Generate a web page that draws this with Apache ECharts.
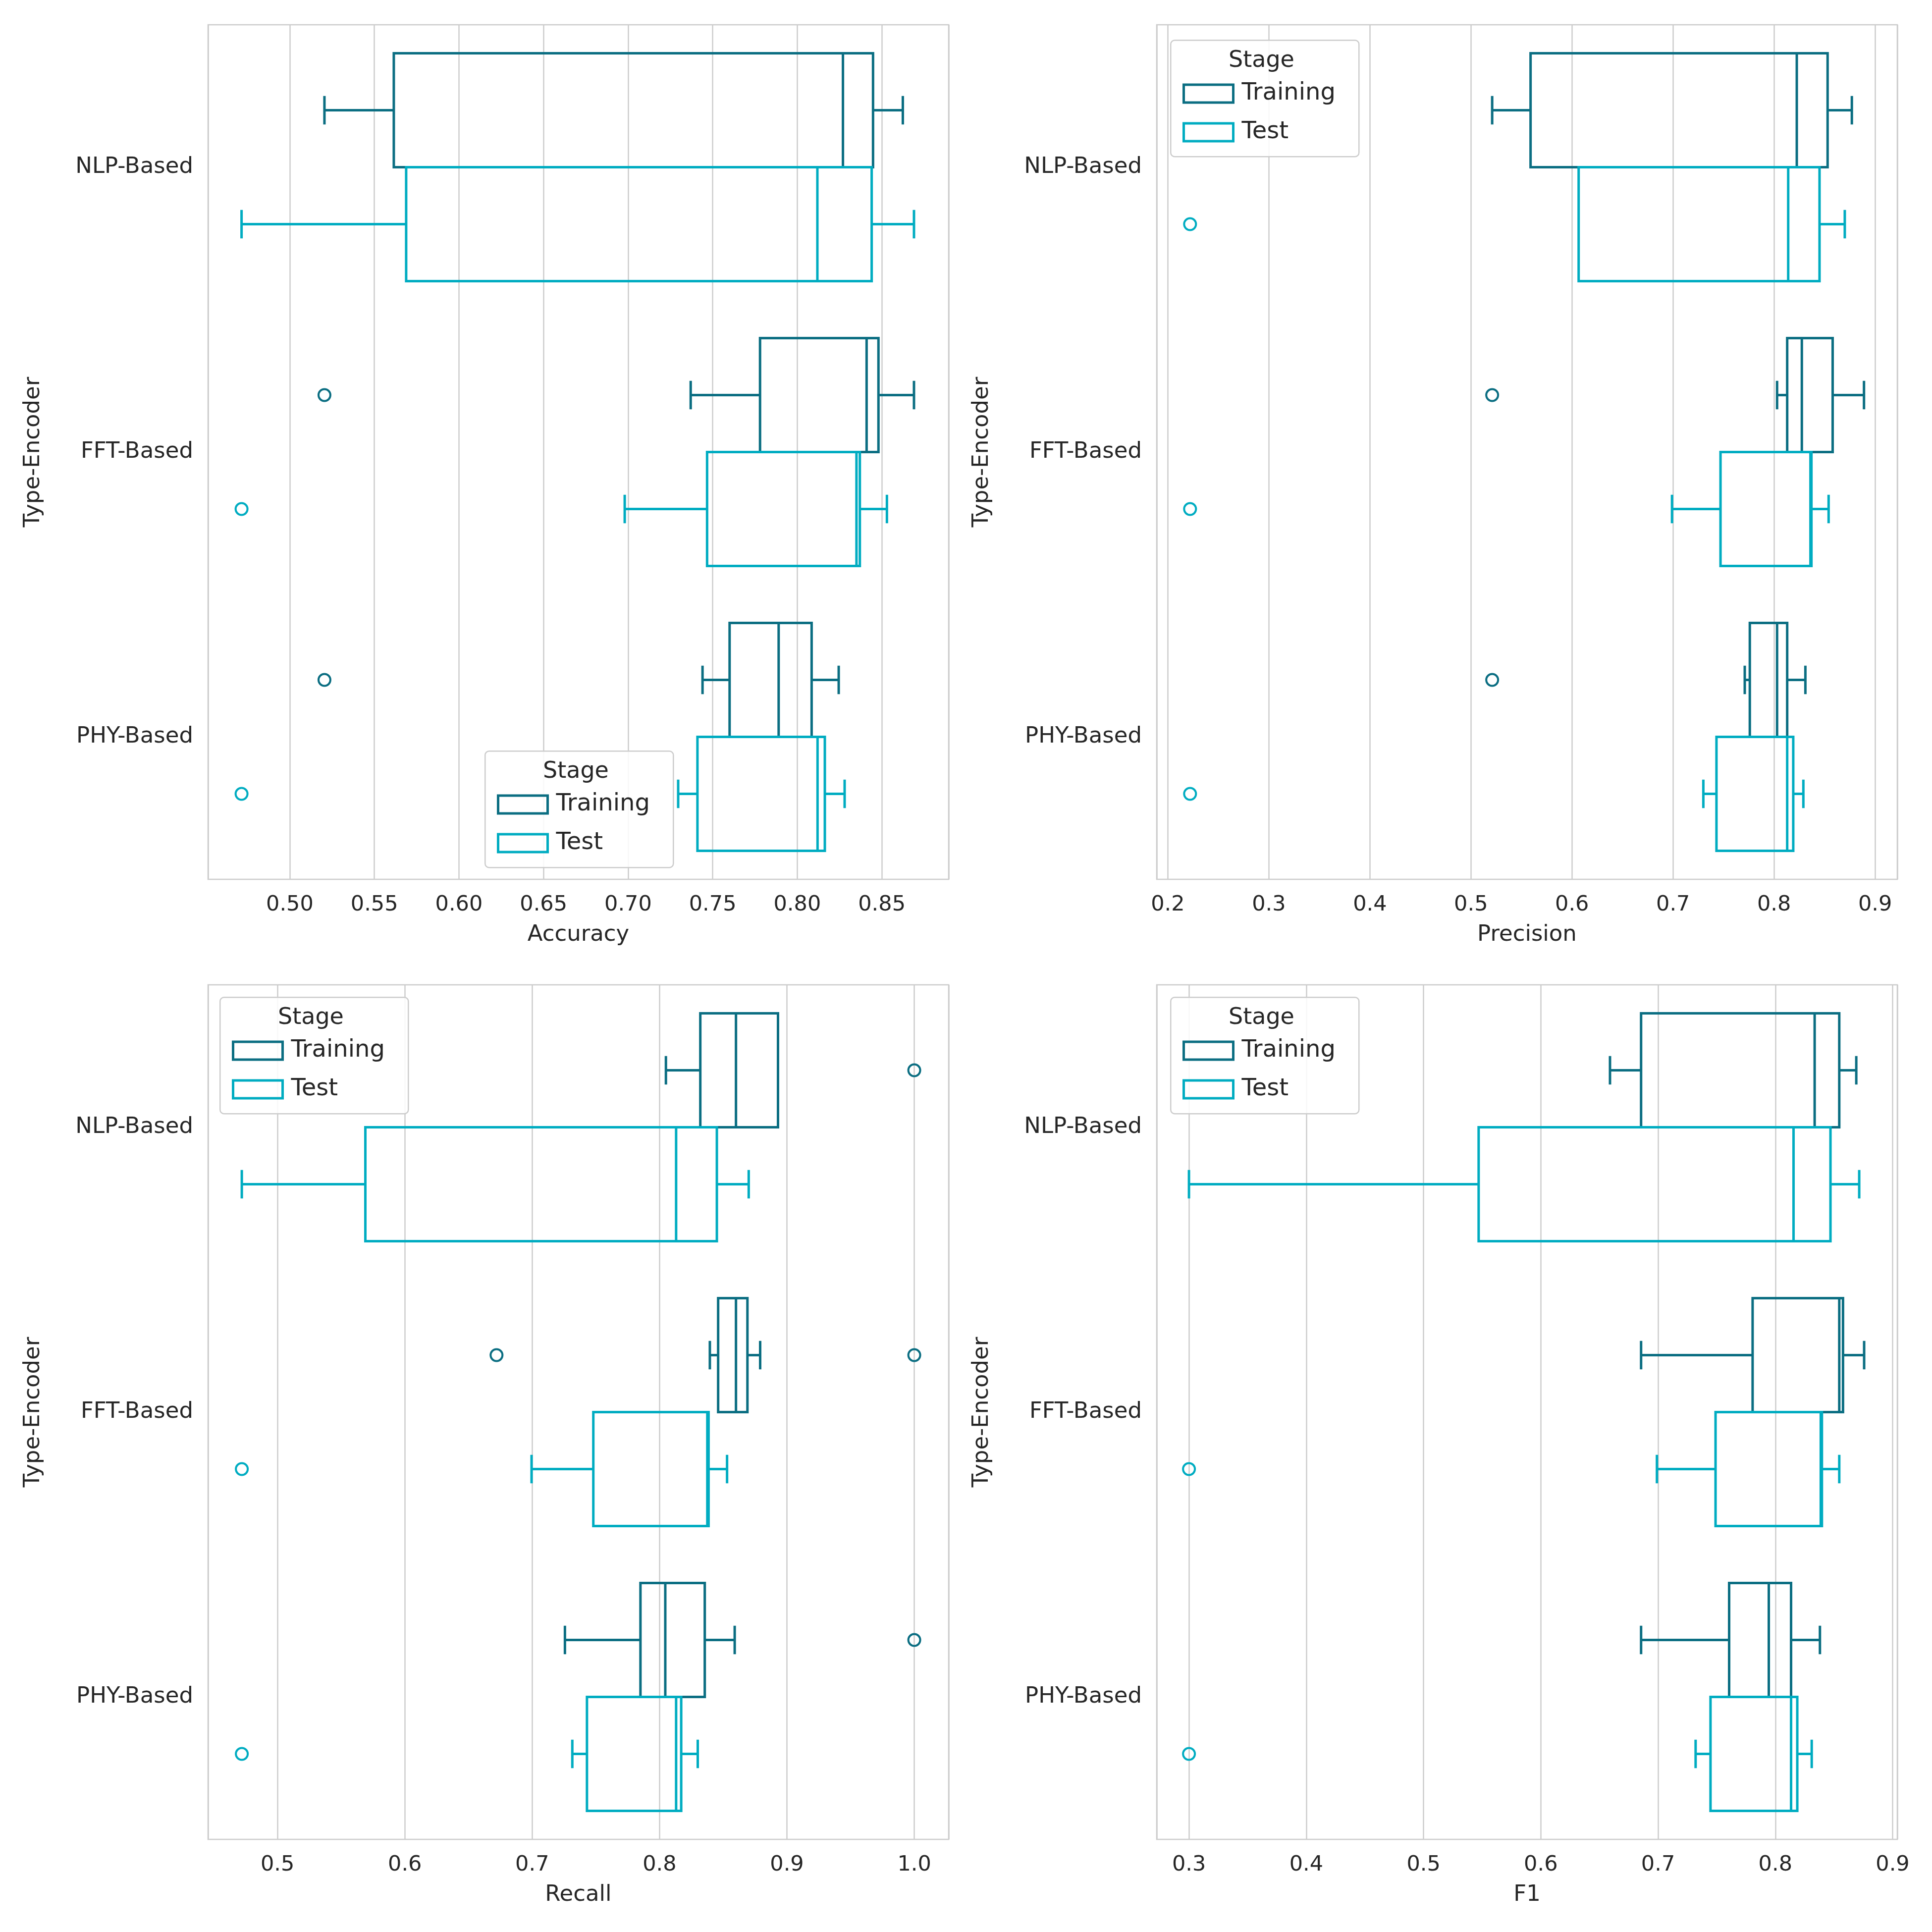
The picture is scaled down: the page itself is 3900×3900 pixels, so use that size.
<!DOCTYPE html>
<html>
<head>
<meta charset="utf-8">
<script src="https://cdn.jsdelivr.net/npm/echarts@6/dist/echarts.min.js"></script>
<style>html,body{margin:0;padding:0;background:#fff}#chart{width:3900px;height:3900px}</style>
</head>
<body>
<div id="chart"></div>
<script>
// categories, top to bottom
var categories = ['NLP-Based', 'FFT-Based', 'PHY-Based'];
var stages = ['Training', 'Test'];

// box stats per category: [min, q1, median, q3, max]
var accTrain = [[0.5205, 0.5615, 0.827, 0.8448, 0.8624], [0.737, 0.778, 0.841, 0.848, 0.869], [0.744, 0.760, 0.789, 0.8085, 0.8245]];
var accTest = [[0.4715, 0.5688, 0.8119, 0.844, 0.869], [0.698, 0.7467, 0.835, 0.837, 0.853], [0.7296, 0.741, 0.812, 0.8163, 0.828]];
var accTrainOut = [[1, 0.5205], [2, 0.5205]];
var accTestOut = [[1, 0.4715], [2, 0.4715]];

var preTrain = [[0.521, 0.559, 0.8225, 0.853, 0.877], [0.803, 0.813, 0.8275, 0.858, 0.889], [0.771, 0.776, 0.803, 0.813, 0.831]];
var preTest = [[0.6066, 0.6066, 0.814, 0.845, 0.870], [0.699, 0.747, 0.836, 0.837, 0.854], [0.730, 0.743, 0.813, 0.819, 0.829]];
var preTrainOut = [[1, 0.521], [2, 0.521]];
var preTestOut = [[0, 0.222], [1, 0.222], [2, 0.222]];

var recTrain = [[0.805, 0.832, 0.860, 0.893, 0.893], [0.8395, 0.846, 0.860, 0.869, 0.879], [0.7257, 0.785, 0.8045, 0.8355, 0.859]];
var recTest = [[0.472, 0.569, 0.813, 0.845, 0.870], [0.6995, 0.748, 0.8375, 0.8385, 0.853], [0.7315, 0.743, 0.813, 0.817, 0.830]];
var recTrainOut = [[0, 1.0], [1, 0.672], [1, 1.0], [2, 1.0]];
var recTestOut = [[1, 0.472], [2, 0.472]];

var f1Train = [[0.659, 0.6855, 0.8335, 0.8545, 0.869], [0.6855, 0.7806, 0.8545, 0.8577, 0.8757], [0.6855, 0.7606, 0.7944, 0.8134, 0.838]];
var f1Test = [[0.300, 0.547, 0.8155, 0.847, 0.8715], [0.699, 0.749, 0.8387, 0.8397, 0.8545], [0.732, 0.7447, 0.8134, 0.8187, 0.831]];
var f1TrainOut = [];
var f1TestOut = [[1, 0.300], [2, 0.300]];

var colTrain = '#0b6e82', colTest = '#00acc1';

var panels = [
  { name: 'Accuracy', train: accTrain, test: accTest, trainOut: accTrainOut, testOut: accTestOut, min: 0.4517, max: 0.8895, split: 8, dec: 2, left: 420, top: 50, legend: [978, 1515] },
  { name: 'Precision', train: preTrain, test: preTest, trainOut: preTrainOut, testOut: preTestOut, min: 0.189, max: 0.922, split: 7, dec: 1, left: 2335, top: 50, legend: [2362, 80] },
  { name: 'Recall', train: recTrain, test: recTest, trainOut: recTrainOut, testOut: recTestOut, min: 0.4455, max: 1.027, split: 6, dec: 1, left: 420, top: 1988, legend: [443, 2012] },
  { name: 'F1', train: f1Train, test: f1Test, trainOut: f1TrainOut, testOut: f1TestOut, min: 0.2725, max: 0.904, split: 6, dec: 1, left: 2335, top: 1988, legend: [2362, 2012] }
];
var gw = 1495, gh = 1725;
var font = 'DejaVu Sans';

function boxRender(color, off) {
  return function (params, api) {
    var c = api.value(0) + 0.5 + off;
    var v = [api.value(1), api.value(2), api.value(3), api.value(4), api.value(5)];
    var p = function (x, y) { return api.coord([x, y]); };
    var st = { stroke: color, fill: 'none', lineWidth: 5 };
    var a = p(v[1], c - 0.2), b = p(v[3], c + 0.2);
    var ch = [];
    ch.push({ type: 'rect', shape: { x: a[0], y: a[1], width: b[0] - a[0], height: b[1] - a[1] }, style: st });
    var m1 = p(v[2], c - 0.2), m2 = p(v[2], c + 0.2);
    ch.push({ type: 'line', shape: { x1: m1[0], y1: m1[1], x2: m2[0], y2: m2[1] }, style: st });
    [[v[0], v[1]], [v[4], v[3]]].forEach(function (w) {
      if (w[0] === w[1]) return;
      var s = p(w[0], c), e = p(w[1], c), t = p(w[0], c - 0.05), u = p(w[0], c + 0.05);
      ch.push({ type: 'line', shape: { x1: s[0], y1: s[1], x2: e[0], y2: e[1] }, style: st });
      ch.push({ type: 'line', shape: { x1: t[0], y1: t[1], x2: u[0], y2: u[1] }, style: st });
    });
    return { type: 'group', children: ch };
  };
}
function outRender(color, off) {
  return function (params, api) {
    var pt = api.coord([api.value(1), api.value(0) + 0.5 + off]);
    return { type: 'circle', shape: { cx: pt[0], cy: pt[1], r: 12 }, style: { stroke: color, fill: 'none', lineWidth: 4 } };
  };
}
function rows(arr) { return arr.map(function (r, i) { return [i].concat(r); }); }

var grid = [], xAxis = [], yAxis = [], series = [], legend = [], graphic = [];
panels.forEach(function (pn, k) {
  grid.push({ left: pn.left, top: pn.top, width: gw, height: gh, show: true, borderColor: '#cccccc', borderWidth: 2.5, backgroundColor: '#fff', containLabel: false, outerBoundsMode: 'none' });
  xAxis.push({
    gridIndex: k, type: 'value', min: pn.min, max: pn.max, splitNumber: pn.split,
    name: pn.name, nameLocation: 'middle', nameGap: 90, nameTextStyle: { fontFamily: font, fontSize: 45, color: '#262626' },
    axisLine: { show: false }, axisTick: { show: false },
    axisLabel: { fontFamily: font, fontSize: 43, color: '#262626', margin: 30, showMinLabel: false, showMaxLabel: false,
      formatter: function (v) { return v.toFixed(pn.dec); } },
    splitLine: { show: true, lineStyle: { color: '#cccccc', width: 2.5 } }
  });
  yAxis.push({ gridIndex: k, type: 'value', min: 0, max: 3, inverse: true, show: false });
  yAxis.push({
    gridIndex: k, type: 'category', data: categories, inverse: true, position: 'left',
    name: 'Type-Encoder', nameLocation: 'middle', nameGap: 330, nameTextStyle: { fontFamily: font, fontSize: 45, color: '#262626' },
    axisLine: { show: false }, axisTick: { show: false },
    axisLabel: { fontFamily: font, fontSize: 45, color: '#262626', margin: 30 }, splitLine: { show: false }
  });
  var yi = k * 2;
  series.push({ type: 'custom', name: 'Training', xAxisIndex: k, yAxisIndex: yi, renderItem: boxRender(colTrain, -0.2), data: rows(pn.train), itemStyle: { color: colTrain }, encode: { x: [1, 2, 3, 4, 5], y: 0 } });
  series.push({ type: 'custom', name: 'Test', xAxisIndex: k, yAxisIndex: yi, renderItem: boxRender(colTest, 0.2), data: rows(pn.test), itemStyle: { color: colTest }, encode: { x: [1, 2, 3, 4, 5], y: 0 } });
  series.push({ type: 'custom', xAxisIndex: k, yAxisIndex: yi, renderItem: outRender(colTrain, -0.2), data: pn.trainOut, encode: { x: 1, y: 0 } });
  series.push({ type: 'custom', xAxisIndex: k, yAxisIndex: yi, renderItem: outRender(colTest, 0.2), data: pn.testOut, encode: { x: 1, y: 0 } });
  var lx = pn.legend[0], ly = pn.legend[1];
  graphic.push({ type: 'rect', left: lx, top: ly, z: 10, shape: { width: 380, height: 235, r: 8 }, style: { fill: 'rgba(255,255,255,0.85)', stroke: '#cccccc', lineWidth: 2.5 } });
  graphic.push({ type: 'text', left: lx + 118, top: ly + 20, z: 11, style: { text: 'Stage', font: '46px "DejaVu Sans"', fill: '#262626' } });
  legend.push({
    left: lx + 20, top: ly + 80, orient: 'vertical', itemGap: 30, itemWidth: 100, itemHeight: 36, z: 12,
    textStyle: { fontFamily: font, fontSize: 48, color: '#262626', padding: [0, 0, 0, 12] },
    data: [
      { name: 'Training', icon: 'rect', itemStyle: { color: 'transparent', borderColor: colTrain, borderWidth: 5 } },
      { name: 'Test', icon: 'rect', itemStyle: { color: 'transparent', borderColor: colTest, borderWidth: 5 } }
    ],
    selectedMode: false
  });
});

var chart = echarts.init(document.getElementById('chart'));
chart.setOption({
  backgroundColor: '#fff', animation: false,
  grid: grid, xAxis: xAxis, yAxis: yAxis, series: series, legend: legend, graphic: graphic
});
</script>
</body>
</html>
